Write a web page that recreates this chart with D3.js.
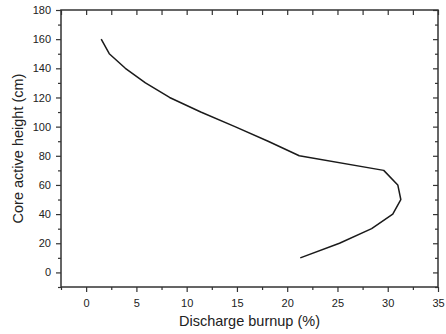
<!DOCTYPE html>
<html>
<head>
<meta charset="utf-8">
<script src="https://cdn.jsdelivr.net/npm/d3@7"></script>
<style>
  body { margin: 0; background: #fff; }
  svg { display: block; }
  text { font-family: Arial, "Liberation Sans", sans-serif; fill: #222; }
</style>
</head>
<body>
<svg width="446" height="334"></svg>
<script>
// Core height (cm) and discharge burnup (%)
let heights = [160, 150, 140, 130, 120, 110, 100, 90, 80, 70, 60, 50, 40, 30, 20, 10];
let burnup = [1.5, 2.3, 3.9, 5.9, 8.3, 11.4, 14.8, 18.1, 21.2, 29.6, 31.0, 31.3, 30.5, 28.4, 25.2, 21.3];
let xTicks = [0, 5, 10, 15, 20, 25, 30, 35];
let yTicks = [0, 20, 40, 60, 80, 100, 120, 140, 160, 180];

let data = heights.map((h, i) => ({ h: h, v: burnup[i] }));

let margin = { left: 61, right: 8, top: 10, bottom: 47 };
let svg = d3.select('svg');
let W = 446, H = 334;
let w = W - margin.left - margin.right;
let h = H - margin.top - margin.bottom;

let x = d3.scaleLinear().domain([-2.5, 35]).range([0, w]);
let y = d3.scaleLinear().domain([-10, 180]).range([h, 0]);

let g = svg.append('g').attr('transform', `translate(${margin.left},${margin.top})`);

let axisColor = '#333';

// minor ticks every half-step
let xMinor = d3.range(-2.5, 35.01, 2.5).filter(d => d % 5 !== 0);
let yMinor = d3.range(-10, 180.01, 10).filter(d => d % 20 !== 0);

function styleAxis(sel) {
  sel.select('.domain').remove();
  sel.selectAll('line').attr('stroke', axisColor).attr('stroke-width', 1.2);
  sel.selectAll('text').style('font-size', '11px').attr('fill', '#222');
}

// bottom axis
g.append('g').attr('transform', `translate(0,${h})`)
  .call(d3.axisBottom(x).tickValues(xTicks).tickSize(5).tickPadding(7).tickFormat(d3.format('d')))
  .call(styleAxis);
g.append('g').attr('transform', `translate(0,${h})`)
  .call(d3.axisBottom(x).tickValues(xMinor).tickSize(3).tickFormat(''))
  .call(styleAxis);

// left axis
g.append('g')
  .call(d3.axisLeft(y).tickValues(yTicks).tickSize(5).tickPadding(5).tickFormat(d3.format('d')))
  .call(styleAxis);
g.append('g')
  .call(d3.axisLeft(y).tickValues(yMinor).tickSize(3).tickFormat(''))
  .call(styleAxis);

// top axis, inward ticks
g.append('g')
  .call(d3.axisTop(x).tickValues(xTicks.concat(xMinor)).tickSize(-5).tickFormat(''))
  .call(styleAxis);

// right axis, inward ticks
g.append('g').attr('transform', `translate(${w},0)`)
  .call(d3.axisRight(y).tickValues(yTicks).tickSize(-5).tickFormat(''))
  .call(styleAxis);
g.append('g').attr('transform', `translate(${w},0)`)
  .call(d3.axisRight(y).tickValues(yMinor).tickSize(-3).tickFormat(''))
  .call(styleAxis);

// frame
g.append('rect')
  .attr('width', w).attr('height', h)
  .attr('fill', 'none')
  .attr('stroke', axisColor)
  .attr('stroke-width', 1.5);

// the profile
let line = d3.line().x(d => x(d.v)).y(d => y(d.h));
g.append('path')
  .datum(data)
  .attr('d', line)
  .attr('fill', 'none')
  .attr('stroke', '#1a1a1a')
  .attr('stroke-width', 1.5)
  .attr('stroke-linejoin', 'round');

// axis titles
svg.append('text')
  .text('Discharge burnup (%)')
  .attr('x', margin.left + w / 2)
  .attr('y', 326)
  .attr('text-anchor', 'middle')
  .style('font-size', '14.5px');

svg.append('text')
  .text('Core active height (cm)')
  .attr('transform', `translate(23,${margin.top + h / 2}) rotate(-90)`)
  .attr('text-anchor', 'middle')
  .style('font-size', '14.5px');
</script>
</body>
</html>
